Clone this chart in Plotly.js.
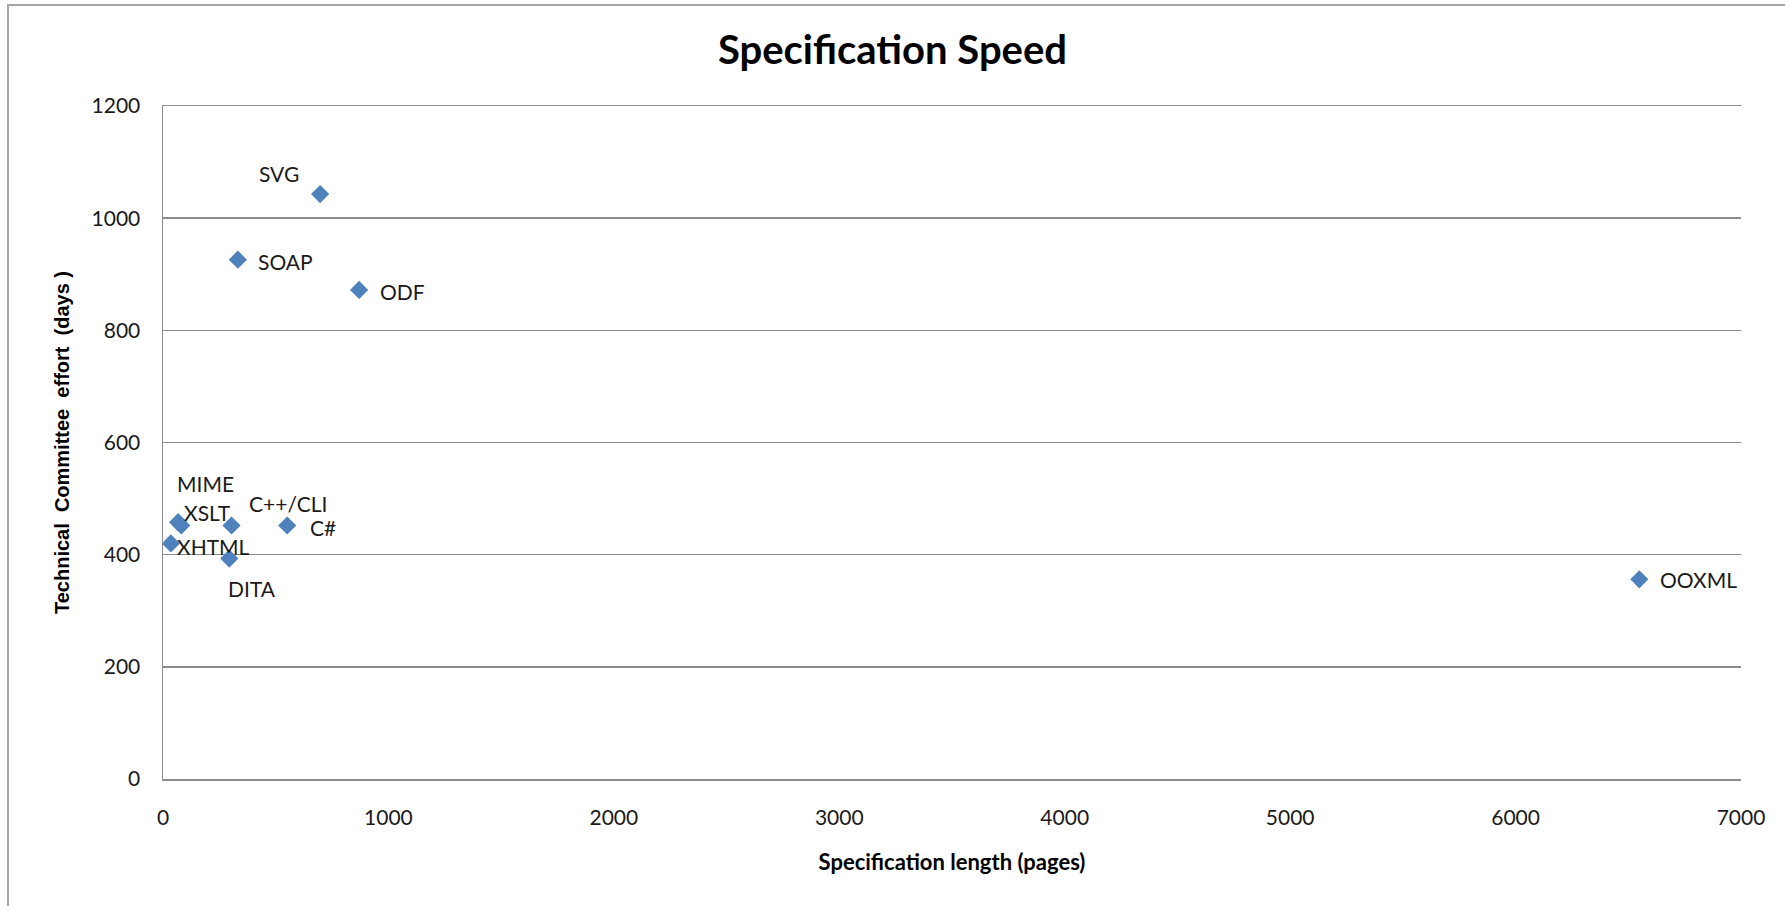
<!DOCTYPE html>
<html>
<head>
<meta charset="utf-8">
<script src="https://cdn.plot.ly/plotly-3.0.1.min.js"></script>
<style>
  html, body { margin: 0; padding: 0; background: #fff; }
  #wrap { position: relative; width: 1785px; height: 906px; }
  #chart { width: 1785px; height: 906px; }
  #frame { position: absolute; left: 7px; top: 4px; right: 0; bottom: -2px;
           border-top: 2px solid #a6a6a6; border-left: 2px solid #a6a6a6; pointer-events: none; }
</style>
</head>
<body>
<div id="wrap"><div id="chart"></div><div id="frame"></div></div>
<script>
// Data
const specNames = ['SVG', 'SOAP', 'ODF', 'MIME', 'XSLT', 'C++/CLI', 'C#', 'XHTML', 'DITA', 'OOXML'];
const specPages = [697, 332, 870, 67, 81, 304, 551, 35, 294, 6549];
const committeeDays = [1043, 926, 872, 458, 452, 452, 452, 420, 393, 356];

// Label placement offsets (pixels) relative to each point
const labelDx = [-41, 48, 43, 27, 26, 56, 36, 43, 23, 59];
const labelDy = [-21, 2, 2, -39, -13, -22, 2, 3, 30, 0];

const gridColor = '#8c8c8c';
const textFont = 'Lato, "Open Sans", sans-serif';

const trace = {
  type: 'scatter',
  mode: 'markers',
  x: specPages,
  y: committeeDays,
  marker: { symbol: 'diamond', size: 14, color: '#4F81BD' },
  hoverinfo: 'skip',
  showlegend: false
};

const annotations = specNames.map((n, i) => ({
  x: specPages[i], y: committeeDays[i], xref: 'x', yref: 'y',
  text: n, showarrow: false,
  xshift: labelDx[i], yshift: -labelDy[i],
  xanchor: 'center', yanchor: 'middle',
  font: { family: textFont, size: 21, color: '#1a1a1a' }
}));

const layout = {
  width: 1785, height: 906,
  margin: { l: 163, r: 44, t: 106, b: 127 },
  paper_bgcolor: '#ffffff', plot_bgcolor: '#ffffff',
  title: {
    text: '<b>Specification Speed</b>',
    xref: 'container', x: 0.5, xanchor: 'center',
    yref: 'container', y: 1 - 50 / 906, yanchor: 'middle',
    font: { family: textFont, size: 40, color: '#000' }
  },
  xaxis: {
    range: [0, 7000], dtick: 1000, tick0: 0,
    showgrid: false, zeroline: false,
    showline: true, mirror: true, linecolor: gridColor, linewidth: 1.5,
    ticks: '', ticklabelstandoff: 19,
    tickfont: { family: textFont, size: 21, color: '#1a1a1a' },
    title: { text: '<b>Specification length (pages)</b>', standoff: 27,
             font: { family: textFont, size: 22, color: '#000' } },
    fixedrange: true
  },
  yaxis: {
    range: [0, 1200], dtick: 200, tick0: 0,
    showgrid: true, gridcolor: gridColor, gridwidth: 1.5,
    zeroline: false,
    showline: true, linecolor: gridColor, linewidth: 1.5,
    ticks: '', ticklabelstandoff: 17,
    tickfont: { family: textFont, size: 21, color: '#1a1a1a' },
    title: { text: '<b>Technical&nbsp;&nbsp;Committee&nbsp;&nbsp;effort&nbsp;&nbsp;(days )</b>', standoff: 16,
             font: { family: '"Liberation Sans", Arial, sans-serif', size: 20, color: '#000' } },
    fixedrange: true
  },
  annotations: annotations,
  hovermode: false
};

Plotly.newPlot('chart', [trace], layout, { displayModeBar: false, staticPlot: true });
</script>
</body>
</html>
